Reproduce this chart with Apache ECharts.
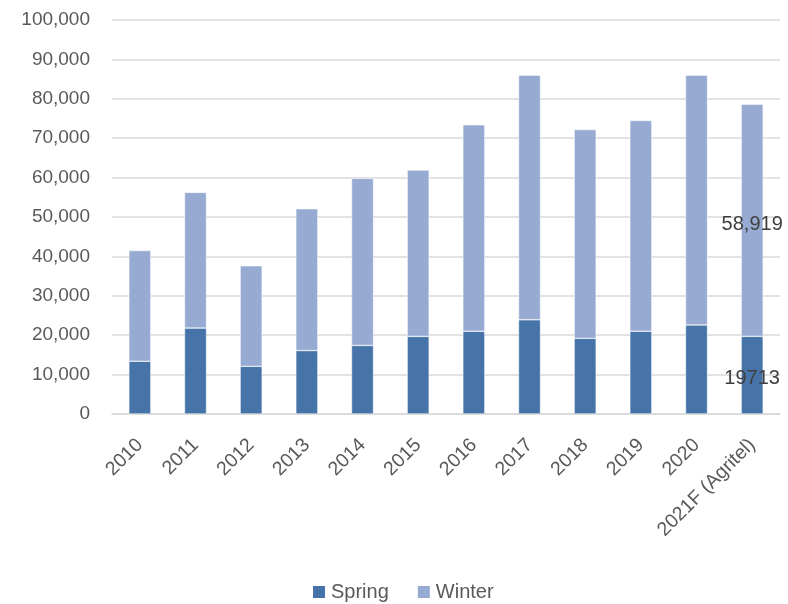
<!DOCTYPE html>
<html>
<head>
<meta charset="utf-8">
<script src="https://cdn.jsdelivr.net/npm/echarts@6/dist/echarts.min.js"></script>
<style>html,body{margin:0;padding:0;background:#fff}#c{width:788px;height:604px}</style>
</head>
<body>
<div id="c"></div>
<script>
const categories = ['2010','2011','2012','2013','2014','2015','2016','2017','2018','2019','2020','2021F (Agritel)'];
const spring = [13400, 21800, 12100, 16100, 17400, 19700, 21000, 23900, 19200, 21000, 22600, 19713];
const winter = [28100, 34450, 25500, 36000, 42400, 42200, 52400, 62100, 53000, 53500, 63400, 58919];
const yTicks = { min: 0, max: 100000, interval: 10000 };

const FONT = 'Liberation Sans';
const fmt = v => v.toLocaleString('en-US');
const last = categories.length - 1;

const springData = spring.map((v, i) => i === last ? {
  value: v, label: { show: true, position: 'inside', formatter: String(v), color: '#404040', fontSize: 20, fontFamily: FONT, offset: [0, 3] }
} : v);
const winterData = winter.map((v, i) => i === last ? {
  value: v, label: { show: true, position: 'inside', formatter: fmt(v), color: '#404040', fontSize: 20, fontFamily: FONT, offset: [0, 4] }
} : v);

const chart = echarts.init(document.getElementById('c'));
chart.setOption({
  animation: false,
  textStyle: { fontFamily: FONT },
  grid: { left: 112, right: 8, top: 20, bottom: 190, containLabel: false },
  legend: {
    top: 577, left: 306, itemWidth: 14, itemHeight: 14, icon: 'rect', itemGap: 27,
    textStyle: { fontSize: 20, color: '#595959', fontFamily: FONT },
    data: ['Spring', 'Winter']
  },
  xAxis: {
    type: 'category', data: categories,
    axisLine: { lineStyle: { color: '#D9D9D9', width: 1.5 } },
    axisTick: { show: false },
    axisLabel: { rotate: 45, margin: 28, fontSize: 19.5, color: '#595959', fontFamily: FONT, interval: 0 }
  },
  yAxis: {
    type: 'value', min: yTicks.min, max: yTicks.max, interval: yTicks.interval,
    axisLine: { show: false }, axisTick: { show: false },
    splitLine: { lineStyle: { color: '#D9D9D9', width: 1.5 } },
    axisLabel: { fontSize: 19, color: '#595959', fontFamily: FONT, margin: 22, formatter: v => fmt(v) }
  },
  series: [
    { name: 'Spring', type: 'bar', stack: 'a', data: springData, barWidth: 22,
      itemStyle: { color: '#4674A9', borderColor: '#ffffff', borderWidth: 0.5 } },
    { name: 'Winter', type: 'bar', stack: 'a', data: winterData, barWidth: 22,
      itemStyle: { color: '#97ABD2', borderColor: '#ffffff', borderWidth: 0.5 } }
  ]
});
</script>
</body>
</html>
